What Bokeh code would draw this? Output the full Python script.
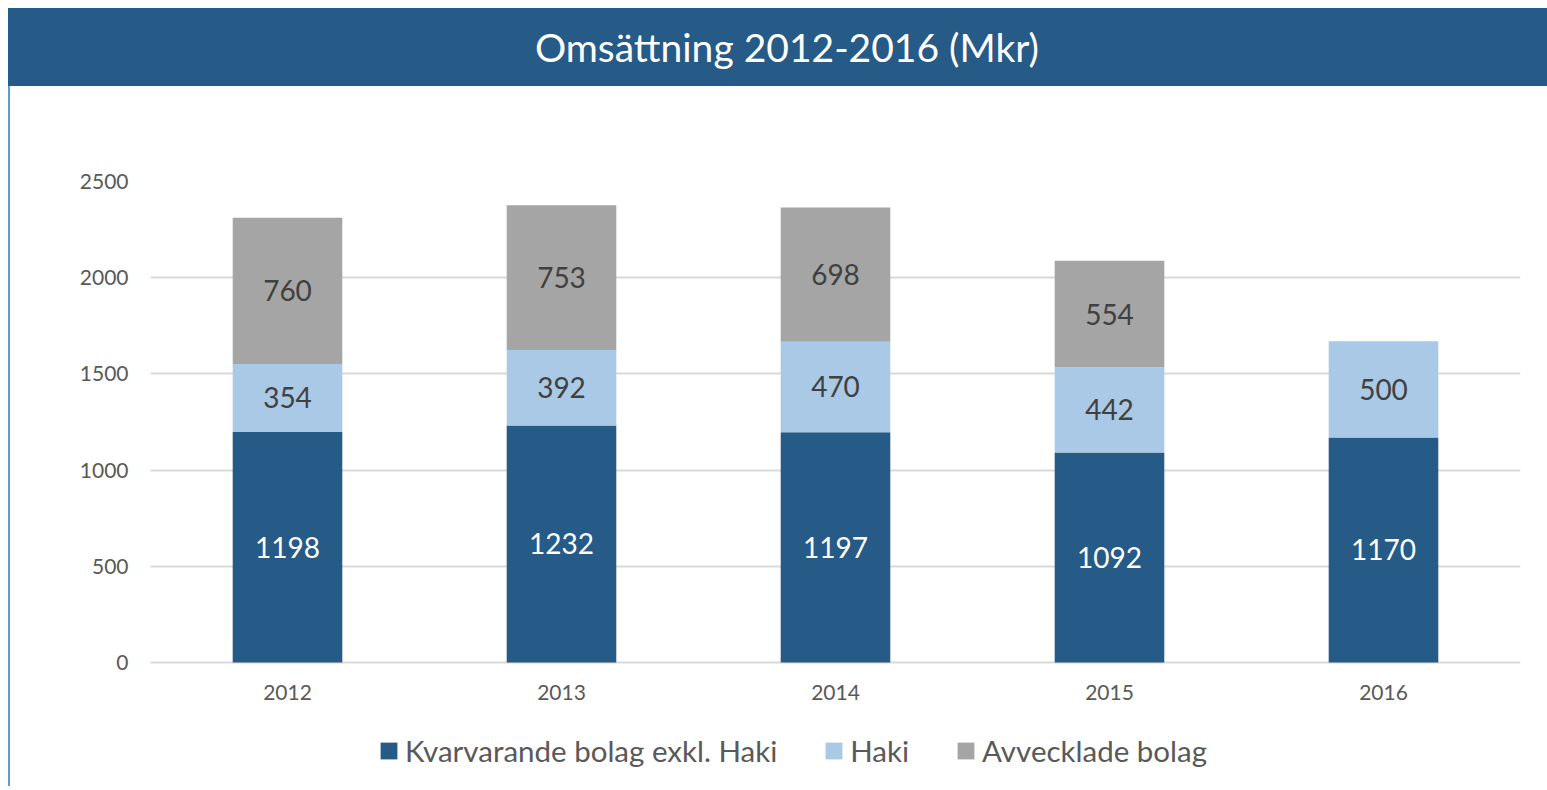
from bokeh.plotting import figure
from bokeh.models import Div, ColumnDataSource, FixedTicker, Legend, LegendItem
from bokeh.layouts import column
from bokeh.core.properties import value
from bokeh.embed import file_html
from bokeh.resources import INLINE

years = ["2012", "2013", "2014", "2015", "2016"]
kvarvarande = [1198, 1232, 1197, 1092, 1170]
haki = [354, 392, 470, 442, 500]
avvecklade = [760, 753, 698, 554, 0]
series_names = ["Kvarvarande bolag exkl. Haki", "Haki", "Avvecklade bolag"]
colors = ["#265a87", "#a9c9e6", "#a5a5a5"]
label_colors = ["#ffffff", "#404040", "#404040"]
y_ticks = [0, 500, 1000, 1500, 2000, 2500]
title_text = "Omsättning 2012-2016 (Mkr)"

FONT = "Lato"
W = 1539
FIG_H = 700
TOP = 95          # px from figure top to the 2500 line
PX_PER_2500 = 481 # px between 0 and 2500
y_max = 2500
y_min = -(FIG_H - TOP - PX_PER_2500) * y_max / PX_PER_2500  # room for axis labels + legend

banner = Div(
    text=title_text,
    width=W,
    height=78,
    margin=0,
    styles={
        "background-color": "#265a87",
        "color": "#ffffff",
        "font-family": FONT,
        "font-size": "39px",
        "text-align": "center",
        "text-indent": "19px",
        "line-height": "78px",
        "display": "block",
    },
)

p = figure(
    x_range=years,
    y_range=(y_min, y_max),
    width=W - 2,
    height=FIG_H,
    output_backend="svg",
    toolbar_location=None,
    min_border_left=140,
    min_border_right=27,
    min_border_top=TOP,
    min_border_bottom=0,
    margin=0,
    styles={"border-left": "2px solid #5b9bd5"},
)
p.outline_line_color = None
p.background_fill_color = "#ffffff"
p.border_fill_color = "#ffffff"

src = ColumnDataSource(dict(x=years, k=kvarvarande, h=haki, a=avvecklade))
keys = ["k", "h", "a"]
renderers = p.vbar_stack(keys, x="x", width=0.4, source=src, color=colors,
                         line_color=None)

# labels at segment centers
all_vals = [kvarvarande, haki, avvecklade]
for i, key in enumerate(keys):
    vals = all_vals[i]
    xs, ys, ts = [], [], []
    for j, yr in enumerate(years):
        if vals[j] <= 0:
            continue
        base = sum(all_vals[m][j] for m in range(i))
        xs.append(yr)
        ys.append(base + vals[j] / 2)
        ts.append(str(vals[j]))
    p.text(x=xs, y=ys, text=ts, text_align="center", text_baseline="middle",
           text_font=value(FONT), text_font_size="28px", text_color=label_colors[i])

p.xgrid.grid_line_color = None
p.ygrid.grid_line_color = "#d9d9d9"
p.ygrid.grid_line_width = 2
p.yaxis.ticker = FixedTicker(ticks=y_ticks)
p.xaxis.fixed_location = 0

for ax in (p.xaxis[0], p.yaxis[0]):
    ax.axis_line_color = None
    ax.major_tick_line_color = None
    ax.minor_tick_line_color = None
    ax.major_label_text_font = FONT
    ax.major_label_text_font_size = "21px"
    ax.major_label_text_color = "#595959"
p.yaxis.major_label_standoff = 16
p.xaxis.major_label_standoff = 16

legend = Legend(
    items=[LegendItem(label=n, renderers=[r]) for n, r in zip(series_names, renderers)],
    orientation="horizontal",
    location=(228, 18),
    glyph_width=21,
    glyph_height=21,
    label_standoff=6,
    spacing=46,
    label_text_font=FONT,
    label_text_font_size="29.5px",
    label_text_color="#595959",
    border_line_color=None,
    background_fill_alpha=0,
    margin=0,
    padding=6,
)
p.add_layout(legend, "center")

layout = column(banner, p, spacing=0, margin=(8, 0, 0, 8))
open("out.html", "w").write(file_html(layout, INLINE))
